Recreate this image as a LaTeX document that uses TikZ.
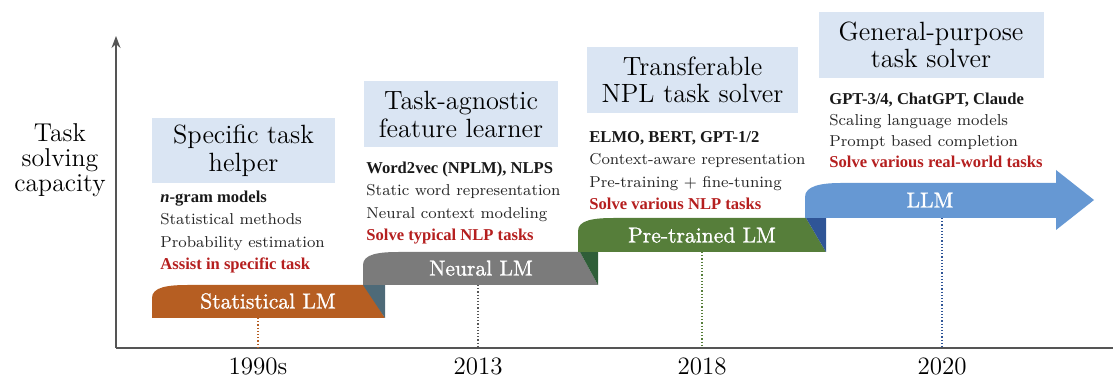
\documentclass[tikz,border=0pt]{standalone}
\usepackage{fontspec}
\newfontfamily\slabfont[Scale=1.05]{Liberation Serif}
\newfontfamily\ribbonfont[FakeBold=1.2]{Latin Modern Roman}
\usetikzlibrary{arrows.meta,calc}
\definecolor{SOrange}{HTML}{B65E22}
\definecolor{SFold}{HTML}{4E6A78}
\definecolor{NGray}{HTML}{7B7B7B}
\definecolor{NFold}{HTML}{2F5E38}
\definecolor{PGreen}{HTML}{567E3A}
\definecolor{PFold}{HTML}{2F5597}
\definecolor{LBlue}{HTML}{6698D3}
\definecolor{TitleBlue}{HTML}{DAE5F3}
\definecolor{TaskRed}{HTML}{B51F1F}
\definecolor{AxisGray}{HTML}{555555}
\tikzset{
    titlebox/.style = {fill=TitleBlue, align=center, inner sep=0pt,
        font=\fontsize{13.2}{13.8}\selectfont},
    facts/.style = {anchor=base west, align=left, inner sep=0pt,
        font=\fontsize{7.9}{11.3}\selectfont, text=black!85},
    ribbonlabel/.style = {text=white, inner sep=0pt, text height=7.5pt, text depth=0pt,
        font=\ribbonfont\fontsize{10.8}{12}\selectfont},
    yearlabel/.style = {anchor=base, inner sep=0pt, font=\fontsize{12.5}{14}\selectfont},
    ylabel/.style = {align=center, inner sep=0pt, font=\fontsize{12.9}{12.5}\selectfont},
    tick/.style = {densely dotted, line width=0.6pt},
    axisline/.style = {draw=AxisGray, line width=0.7pt}
}
\newcommand{\keyline}[1]{{\slabfont\bfseries\color{black!90}#1}}
\newcommand{\redline}[1]{{\slabfont\bfseries\color{TaskRed}#1}}

\begin{document}
\begin{tikzpicture}[x=0.5pt,y=-0.5pt]
    \useasboundingbox (0,0) rectangle (1113,378);
    % axes
    \coordinate (origin) at (116,348);
    \coordinate (ytop) at (116,36);
    \coordinate (xend) at (1113,348);
    \draw[axisline,-{Stealth[length=6pt,width=4.5pt]}] (origin) -- (ytop);
    \draw[axisline] (origin) -- (xend);
    \node[ylabel] (capacity) at (60,160) {Task\\solving\\capacity};
    % dotted ticks and years
    \coordinate (tick1) at (258,318);
    \coordinate (tick2) at (478,285);
    \coordinate (tick3) at (702,252);
    \coordinate (tick4) at (942,218);
    \draw[tick,SOrange] (tick1) -- (tick1 |- origin);
    \draw[tick,NGray!70!black] (tick2) -- (tick2 |- origin);
    \draw[tick,PGreen] (tick3) -- (tick3 |- origin);
    \draw[tick,PFold] (tick4) -- (tick4 |- origin);
    \node[yearlabel] (year1) at (258,375) {1990s};
    \node[yearlabel] (year2) at (478,375) {2013};
    \node[yearlabel] (year3) at (702,375) {2018};
    \node[yearlabel] (year4) at (942,375) {2020};
    % ribbons
    \fill[SOrange] (152,318) -- (152,298) .. controls (152,287) and (168,285) .. (188,285) -- (365,285) -- (385,318) -- cycle;
    \fill[SFold] (363,285) -- (385,285) -- (385,318) -- cycle;
    \fill[NGray] (363,285) -- (363,265) .. controls (363,254) and (379,252) .. (399,252) -- (580,252) -- (598,285) -- cycle;
    \fill[NFold] (580,252) -- (598,252) -- (598,285) -- cycle;
    \fill[PGreen] (578,252) -- (578,231) .. controls (578,220) and (594,218) .. (614,218) -- (806,218) -- (826,252) -- cycle;
    \fill[PFold] (806,218) -- (826,218) -- (826,252) -- cycle;
    \fill[LBlue] (805,218) -- (805,197) .. controls (805,186) and (821,183) .. (841,183) -- (1056,183) -- (1056,170) -- (1094,200) -- (1056,230) -- (1056,218) -- cycle;
    \node[ribbonlabel] (stat) at (268,301) {Statistical LM};
    \node[ribbonlabel] (neural) at (481,268) {Neural LM};
    \node[ribbonlabel] (pretr) at (702,235) {Pre-trained LM};
    \node[ribbonlabel] (llm) at (930,200) {LLM};
    % stage titles
    \node[titlebox,minimum width=91.5pt,minimum height=32.5pt] (title1) at (243.5,150.5) {Specific task\\helper};
    \node[titlebox,minimum width=97pt,minimum height=33pt] (title2) at (461,114.5) {Task-agnostic\\feature learner};
    \node[titlebox,minimum width=105.5pt,minimum height=33pt] (title3) at (692.5,80) {Transferable\\NPL task solver};
    \node[titlebox,minimum width=112.5pt,minimum height=33pt] (title4) at (931,45) {General-purpose\\task solver};
    % stage facts (anchored at the last line)
    \node[facts] (facts1) at (160,270) {\keyline{\textit{n}-gram models}\\Statistical methods\\Probability estimation\\\redline{Assist in specific task}};
    \node[facts] (facts2) at (366,241) {\keyline{Word2vec (NPLM), NLPS}\\Static word representation\\Neural context modeling\\\redline{Solve typical NLP tasks}};
    \node[facts] (facts3) at (589,210) {\keyline{ELMO, BERT, GPT-1/2}\\Context-aware representation\\Pre-training + fine-tuning\\\redline{Solve various NLP tasks}};
    \node[facts,font=\fontsize{7.9}{10.5}\selectfont] (facts4) at (829,168) {\keyline{GPT-3/4, ChatGPT, Claude}\\Scaling language models\\Prompt based completion\\\redline{Solve various real-world tasks}};
\end{tikzpicture}
\end{document}
